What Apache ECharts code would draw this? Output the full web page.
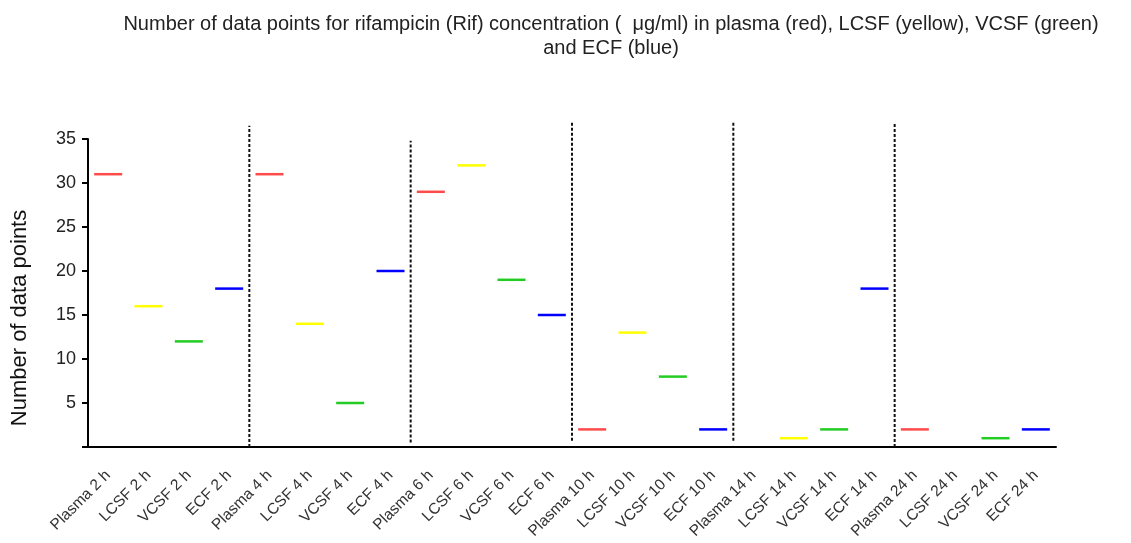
<!DOCTYPE html>
<html><head><meta charset="utf-8">
<script src="https://cdn.jsdelivr.net/npm/echarts@6/dist/echarts.min.js"></script>
<style>html,body{margin:0;padding:0;background:#fff}#c{width:1131px;height:543px}</style>
</head><body><div id="c"></div>
<script>
const categories = ["Plasma 2 h","LCSF 2 h","VCSF 2 h","ECF 2 h",
  "Plasma 4 h","LCSF 4 h","VCSF 4 h","ECF 4 h",
  "Plasma 6 h","LCSF 6 h","VCSF 6 h","ECF 6 h",
  "Plasma 10 h","LCSF 10 h","VCSF 10 h","ECF 10 h",
  "Plasma 14 h","LCSF 14 h","VCSF 14 h","ECF 14 h",
  "Plasma 24 h","LCSF 24 h","VCSF 24 h","ECF 24 h"];
// values per fluid, one per time point (2,4,6,10,14,24 h); null = no mark
const plasma = [31, 31, 29, 2, null, 2];
const lcsf   = [16, 14, 32, 13, 1, null];
const vcsf   = [12, 5, 19, 8, 2, 1];
const ecf    = [18, 20, 15, 2, 18, 2];
const yTicks = [5, 10, 15, 20, 25, 30, 35];
// separator positions (between groups, category units) with top/bottom extent in data units
const sepX      = [3.5, 7.5, 11.5, 15.5, 19.5];
const sepTop    = [36.5, 34.8, 36.9, 36.9, 36.7];
const sepBottom = [0, 0.5, 0.7, 0.7, 0];

const fluids = [
  {name:'Plasma', vals: plasma, color:'#ff4a4a', off:0},
  {name:'LCSF', vals: lcsf, color:'#ffff00', off:1},
  {name:'VCSF', vals: vcsf, color:'#22cc22', off:2},
  {name:'ECF', vals: ecf, color:'#0000ff', off:3}
];
const series = [];
fluids.forEach(f => {
  series.push({
    type:'scatter', name:f.name, xAxisIndex:0, yAxisIndex:0,
    symbol:'rect', symbolSize:[28, 2.5],
    itemStyle:{color:f.color, opacity:1},
    data: f.vals.map((v,i)=> v==null?null:[i*4+f.off, v]).filter(d=>d),
    silent:true, animation:false
  });
});
sepX.forEach((x,i)=>{
  series.push({
    type:'line', xAxisIndex:1, yAxisIndex:1, clip:false, symbol:'none',
    lineStyle:{color:'#111', width:2, type:[3,2]},
    data:[[x, sepBottom[i]],[x, sepTop[i]]], silent:true, animation:false
  });
});

const chart = echarts.init(document.getElementById('c'), null, {renderer:'canvas'});
chart.setOption({
  backgroundColor:'#fff',
  animation:false,
  title:{
    text:'Number of data points for rifampicin (Rif) concentration (  μg/ml) in plasma (red), LCSF (yellow), VCSF (green)\nand ECF (blue)',
    left:606, top:7, textAlign:'center',
    textStyle:{fontFamily:'Liberation Sans', fontSize:20, fontWeight:'normal', color:'#222', lineHeight:24}
  },
  graphic:[{
    type:'text', x:20, y:318, rotation:Math.PI/2,
    style:{text:'Number of data points', fontFamily:'Liberation Sans', fontSize:22, fill:'#111',
      align:'center', verticalAlign:'middle'}
  }],
  grid:{left:88, right:75, top:139, bottom:96},
  xAxis:[{
    type:'category', data:categories, boundaryGap:true,
    axisLine:{lineStyle:{color:'#000', width:2}},
    axisTick:{alignWithLabel:true, length:5, lineStyle:{color:'#000', width:2}},
    axisLabel:{rotate:45, interval:0, fontFamily:'Liberation Sans', fontSize:15.5, color:'#333', margin:26},
    splitLine:{show:false}
  },{
    type:'value', min:-0.5, max:23.5, show:false
  }],
  yAxis:[{
    type:'value', min:0, max:35, interval:5,
    axisLine:{show:true, onZero:false, lineStyle:{color:'#000', width:2}},
    axisTick:{show:true, length:6, lineStyle:{color:'#000', width:2}},
    axisLabel:{fontFamily:'Liberation Sans', fontSize:18, color:'#222', margin:12,
      formatter: v => yTicks.includes(v) ? String(v) : ''},
    splitLine:{show:false}
  },{
    type:'value', min:0, max:35, show:false
  }],
  series: series
});
</script></body></html>
